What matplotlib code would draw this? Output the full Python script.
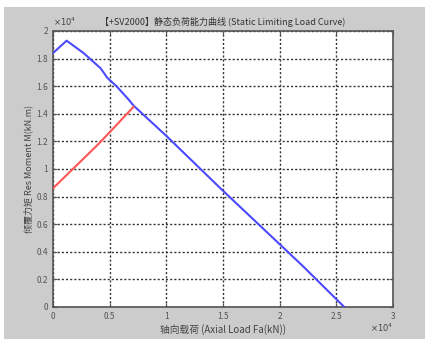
import numpy as np
import matplotlib
matplotlib.use("Agg")
from matplotlib import pyplot as plt
from matplotlib.patches import Rectangle

plt.rcParams['font.family'] = ['Noto Sans CJK SC', 'DejaVu Sans']

# data (x in 1e4 kN, y in 1e4 kN.m)
blue_x = [0.0, 0.12, 0.27, 0.42, 0.48, 0.56, 0.66, 0.71, 1.00, 1.49, 1.80, 2.20, 2.57]
blue_y = [1.84, 1.93, 1.84, 1.73, 1.66, 1.60, 1.51, 1.46, 1.24, 0.85, 0.61, 0.30, 0.0]
red_x = [0.0, 0.20, 0.40, 0.55, 0.63, 0.71]
red_y = [0.86, 1.02, 1.18, 1.31, 1.38, 1.45]

title = "【+SV2000】静态负荷能力曲线 (Static Limiting Load Curve)"
xlabel = "轴向载荷 (Axial Load Fa(kN))"
ylabel = "倾覆力矩 Res Moment M(kN.m)"
xticks = np.arange(0, 3.01, 0.5)
yticks = np.arange(0, 2.01, 0.2)

fig = plt.figure(figsize=(4.25, 3.39), dpi=100)
fig.patch.set_facecolor('white')
fig.patches.append(Rectangle((4/425, 0), 1 - 4/425, 1 - 7/339, transform=fig.transFigure,
                             facecolor='#cccccc', edgecolor='none', zorder=-10))

ax = fig.add_axes([53/425, 32/339, 340/425, 276/339])
ax.set_facecolor('white')
ax.set_xlim(0, 3)
ax.set_ylim(0, 2)

ax.plot(blue_x, blue_y, color='#4a4aff', lw=1.5, zorder=3)
ax.plot(red_x, red_y, color='#ff5555', lw=1.5, zorder=3)

ax.set_xticks(xticks)
ax.set_yticks(yticks)
ax.set_xticklabels(['0', '0.5', '1', '1.5', '2', '2.5', '3'])
ax.set_yticklabels(['0', '0.2', '0.4', '0.6', '0.8', '1', '1.2', '1.4', '1.6', '1.8', '2'])
ax.tick_params(direction='in', length=3, labelsize=6, labelcolor='#555555', color='#555555',
               top=True, right=True)
for s in ax.spines.values():
    s.set_color('#555555')
    s.set_linewidth(1.2)
# dotted matlab-style grid
ax.grid(True, linestyle=(0, (1.5, 1.5)), color='#333333', linewidth=1.0)

ax.set_title(title, fontsize=6.5, color='#333333', pad=4)
ax.set_xlabel(xlabel, fontsize=7, color='#444444', labelpad=2)
ax.set_ylabel(ylabel, fontsize=6.5, color='#444444', labelpad=2)
ax.text(0.0, 1.01, r"$\times10^4$", transform=ax.transAxes, fontsize=6, color='#444444', ha='left', va='bottom')
ax.text(1.0, -0.075, r"$\times10^4$", transform=ax.transAxes, fontsize=6, color='#444444', ha='right', va='center')

fig.savefig('out.png', dpi=100, facecolor=fig.get_facecolor())
